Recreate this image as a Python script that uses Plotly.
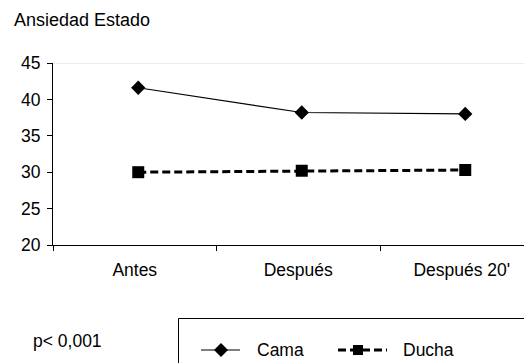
import plotly.graph_objects as go

categories = ["Antes", "Después", "Después 20'"]
cama = [41.6, 38.2, 38.0]
ducha = [30.0, 30.2, 30.3]
y_ticks = [20, 25, 30, 35, 40, 45]

# the page puts the figure 8px in from the window corner; coords below are figure pixels
W, H = 516, 371
L, R, T, B = 45, 0, 55, 134
pw = W - L - R
ph = H - T - B
CAT_W = 163.5  # pixel width of one category band
X_MAX = -0.5 + pw / CAT_W
SHIFT = 3.5 / CAT_W  # marks sit slightly right of the band centres in the original

FONT = "Liberation Sans, Arial, sans-serif"

fig = go.Figure()
fig.add_trace(go.Scatter(
    x=categories, y=cama, name="Cama", mode="lines+markers", showlegend=False,
    xaxis="x2",
    line=dict(color="black", width=1.2),
    marker=dict(symbol="diamond", size=11, color="black"),
))
fig.add_trace(go.Scatter(
    x=categories, y=ducha, name="Ducha", mode="lines+markers", showlegend=False,
    xaxis="x2",
    line=dict(color="black", width=3, dash="8px,4px"),
    marker=dict(symbol="square", size=12, color="black"),
))
# invisible trace to populate the visible category axis
fig.add_trace(go.Scatter(x=categories, y=[None] * len(categories), showlegend=False,
                         hoverinfo="skip", mode="markers"))


def px_x(p):
    return (p - L) / pw


def px_y(p):
    return (H - B - p) / ph


# light border line at the top of the plot area
fig.add_shape(type="line", xref="paper", yref="y", x0=0, x1=1, y0=45, y1=45,
              line=dict(color="#d9d9d9", width=1))

# legend (drawn by hand so it does not resize the plot area)
fig.add_shape(type="rect", xref="paper", yref="paper",
              x0=px_x(170.5), x1=px_x(560), y0=px_y(310.5), y1=px_y(400),
              line=dict(color="black", width=1), fillcolor="rgba(0,0,0,0)")
ly = 342
fig.add_shape(type="line", xref="paper", yref="paper",
              x0=px_x(193), x1=px_x(232), y0=px_y(ly), y1=px_y(ly),
              line=dict(color="black", width=1.2))
fig.add_shape(type="path", xref="paper", yref="paper", xsizemode="pixel", ysizemode="pixel",
              xanchor=px_x(213), yanchor=px_y(ly),
              path="M0,-7 L7,0 L0,7 L-7,0 Z", fillcolor="black", line=dict(width=0))
fig.add_shape(type="line", xref="paper", yref="paper",
              x0=px_x(330), x1=px_x(379), y0=px_y(ly), y1=px_y(ly),
              line=dict(color="black", width=3, dash="8px,4px"))
fig.add_shape(type="rect", xref="paper", yref="paper", xsizemode="pixel", ysizemode="pixel",
              xanchor=px_x(350), yanchor=px_y(ly), x0=-5, x1=5, y0=-5, y1=5,
              fillcolor="black", line=dict(width=0))
fig.add_annotation(text="Cama", xref="paper", yref="paper",
                   x=px_x(247), y=px_y(ly), xanchor="left", yanchor="middle",
                   showarrow=False, font=dict(size=17.5, color="black"))
fig.add_annotation(text="Ducha", xref="paper", yref="paper",
                   x=px_x(393), y=px_y(ly), xanchor="left", yanchor="middle",
                   showarrow=False, font=dict(size=17.5, color="black"))

fig.add_annotation(text="Ansiedad Estado", xref="paper", yref="paper",
                   x=px_x(4), y=px_y(12.5), xanchor="left", yanchor="middle",
                   showarrow=False, font=dict(size=18, color="black"))
fig.add_annotation(text="p< 0,001", xref="paper", yref="paper",
                   x=px_x(23), y=px_y(333), xanchor="left", yanchor="middle",
                   showarrow=False, font=dict(size=17.5, color="black"))

fig.update_layout(
    width=W, height=H,
    margin=dict(l=L, r=R, t=T, b=B, autoexpand=False),
    paper_bgcolor="white", plot_bgcolor="white",
    font=dict(family=FONT, size=17.5, color="black"),
    showlegend=False,
    xaxis=dict(type="category", categoryorder="array", categoryarray=categories,
               range=[-0.5, X_MAX], showgrid=False,
               showline=True, linecolor="black", linewidth=1,
               ticks="outside", tickson="boundaries", ticklen=5, tickcolor="black",
               ticklabelstandoff=9, zeroline=False),
    xaxis2=dict(type="category", categoryorder="array", categoryarray=categories,
                overlaying="x", range=[-0.5 - SHIFT, X_MAX - SHIFT], visible=False),
    yaxis=dict(range=[20, 45], tickvals=y_ticks, showgrid=False,
               showline=True, linecolor="black", linewidth=1,
               ticks="outside", ticklen=5, tickcolor="black",
               ticklabelstandoff=3, zeroline=False),
)

fig.write_html("out.html")
